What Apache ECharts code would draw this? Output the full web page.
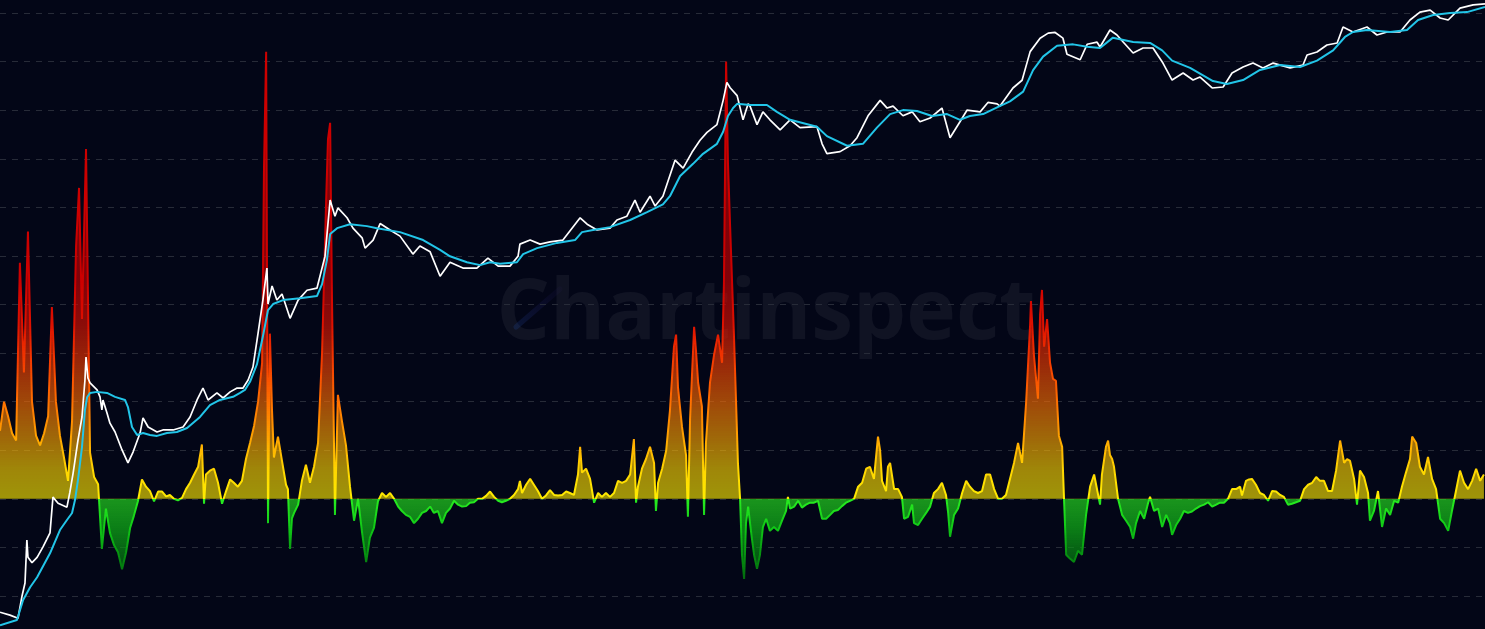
<!DOCTYPE html>
<html><head><meta charset="utf-8">
<script src="https://cdn.jsdelivr.net/npm/echarts@6/dist/echarts.min.js"></script>
<style>html,body{margin:0;padding:0;background:#030617;overflow:hidden}#chart{width:1485px;height:629px}</style>
</head><body><div id="chart"></div>
<script>
// Time base: days since 2010-07-18
const START = Date.UTC(2010, 6, 18);
const DAY = 86400000;
const LAST_DAY = 5524;

// BTC price (USD)
const priceDays = [0,37,67,82,93,100,104,119,138,160,186,197,216,249,260,272,290,305,316,320,327,335,361,372,379,383,398,409,428,454,476,495,521,532,551,584,606,644,681,707,733,755,774,807,830,856,882,904,923,941,960,978,993,997,1012,1030,1049,1079,1109,1142,1179,1209,1228,1246,1257,1291,1313,1347,1358,1388,1414,1451,1488,1536,1562,1600,1637,1674,1722,1774,1815,1853,1897,1927,1934,1972,2009,2046,2094,2158,2184,2221,2269,2295,2332,2362,2381,2418,2437,2466,2511,2541,2574,2604,2630,2667,2690,2704,2716,2742,2764,2783,2790,2816,2838,2864,2902,2939,2976,3039,3058,3076,3125,3162,3188,3229,3274,3300,3322,3359,3393,3422,3460,3504,3534,3571,3597,3646,3675,3709,3720,3768,3802,3832,3869,3899,3925,3954,3969,4018,4044,4081,4092,4129,4155,4178,4215,4252,4289,4326,4360,4401,4438,4464,4509,4550,4583,4624,4661,4698,4736,4799,4847,4862,4899,4936,4974,4996,5033,5085,5122,5160,5208,5245,5282,5320,5357,5387,5431,5480,5524];
const priceUSD = [0.068,0.0635,0.059,0.10,0.136,0.376,0.25,0.22,0.25,0.32,0.445,1.04,0.90,0.82,1.17,1.84,4.0,6.95,16.7,28.8,17.5,15.6,13.2,11.2,8.2,10.4,7.64,6.0,4.87,3.18,2.34,3.03,4.75,6.79,5.48,4.87,5.11,5.11,5.48,6.95,10.4,13.8,10.4,12.3,10.9,12.6,13.8,13.8,16.7,22.7,50.8,111,237,101,155,111,128,72,111,140,147,314,1187,810,985,780,610,485,380,460,680,585,505,330,400,348,195,272,237,237,300,248,248,313,418,460,418,440,460,780,670,585,610,740,810,1187,890,1300,1030,1300,3050,2530,3680,4900,5900,7100,12600,19300,17000,14100,7950,11600,11000,7100,9600,7950,6250,7950,6600,6750,4500,3560,3740,4300,5200,8750,12600,10500,11000,8750,9600,7600,8300,10500,5200,7600,9980,9600,12000,11600,11000,16900,20300,40000,55000,62000,63000,55000,37600,33000,47600,50000,44600,66800,59300,50200,38700,43600,43600,30500,20400,24100,20400,21900,16900,17300,24100,27800,30500,27200,30500,27200,29100,36900,39700,46800,49100,71700,63700,71700,59300,63700,63700,84600,102000,107000,88700,84600,112000,121000,124000];

// Moving average (USD)
const maDays = [0,63,86,112,138,186,223,249,268,279,290,305,316,324,335,361,398,428,465,476,491,510,532,558,584,621,658,696,744,781,818,867,893,911,930,956,978,997,1016,1053,1116,1179,1198,1216,1228,1254,1302,1365,1402,1488,1574,1637,1674,1737,1786,1823,1860,1923,1946,1998,2072,2139,2165,2206,2269,2344,2407,2466,2492,2530,2578,2615,2667,2690,2708,2727,2742,2790,2853,2890,2939,3039,3076,3151,3210,3262,3311,3359,3411,3467,3523,3571,3608,3657,3713,3757,3806,3843,3880,3932,3992,4044,4092,4140,4215,4278,4323,4360,4427,4512,4564,4624,4687,4762,4836,4899,4959,5003,5033,5085,5171,5234,5275,5331,5394,5457,5524];
const maUSD = [0.05,0.0565,0.091,0.123,0.156,0.275,0.477,0.605,0.714,0.97,1.56,3.41,8.2,11.1,12.3,12.6,12.3,11.2,10.4,8.8,5.48,4.54,4.75,4.54,4.44,4.75,4.87,5.35,6.95,9.2,10.4,11.2,12.3,13.2,16.0,24.3,47,87.6,101,111,116,122,162,286,530,610,670,640,610,555,460,365,313,272,254,272,262,272,330,380,430,460,555,585,625,740,890,1070,1300,2100,2800,3550,4500,6000,8700,10500,11600,11300,11300,9600,7950,6750,5400,4300,4500,6600,9100,10000,9800,8700,9100,7950,8700,9100,10800,12300,15500,25800,35500,46000,47500,45000,43600,55700,50200,49100,41200,32300,27200,19900,18600,20400,25900,29100,27800,32300,41200,56600,63700,66800,63700,66800,84600,95300,100000,102000,115000];

// Oscillator
const oscDays = [0,15,30,45,60,74,89,104,119,134,149,164,179,193,208,223,238,253,268,283,294,305,320,335,350,365,379,394,409,424,439,454,469,484,498,513,528,543,558,573,588,603,618,632,647,662,677,692,707,722,737,751,759,766,781,796,811,826,841,856,870,885,900,915,930,945,960,975,982,990,993,997,1004,1012,1019,1034,1049,1064,1071,1079,1086,1094,1109,1123,1138,1153,1168,1183,1198,1213,1220,1228,1235,1246,1257,1272,1287,1302,1317,1332,1347,1362,1376,1391,1406,1421,1436,1451,1466,1481,1495,1510,1525,1540,1555,1570,1585,1600,1614,1629,1644,1659,1674,1689,1704,1719,1734,1748,1763,1778,1793,1808,1823,1838,1853,1867,1882,1897,1912,1927,1934,1942,1957,1972,1986,2001,2016,2031,2046,2061,2076,2091,2106,2120,2135,2150,2158,2165,2180,2195,2210,2225,2239,2254,2269,2284,2299,2314,2329,2344,2358,2366,2373,2388,2403,2418,2433,2440,2448,2463,2478,2492,2507,2515,2522,2537,2552,2559,2567,2582,2589,2597,2611,2619,2626,2641,2656,2671,2686,2693,2701,2708,2716,2730,2738,2745,2753,2760,2768,2775,2783,2790,2797,2805,2816,2827,2838,2850,2864,2879,2894,2909,2924,2931,2939,2954,2969,2983,2998,3013,3028,3043,3058,3073,3088,3102,3117,3132,3147,3162,3177,3192,3207,3222,3236,3251,3266,3274,3281,3296,3303,3311,3326,3341,3355,3363,3378,3393,3400,3415,3430,3445,3460,3474,3489,3504,3519,3527,3534,3549,3564,3579,3594,3608,3623,3638,3653,3668,3683,3698,3713,3727,3742,3757,3772,3787,3802,3817,3832,3835,3846,3861,3869,3876,3884,3895,3906,3917,3928,3939,3951,3958,3966,3980,3995,4010,4025,4040,4055,4070,4085,4092,4099,4114,4122,4129,4137,4144,4159,4174,4189,4204,4215,4226,4241,4256,4271,4278,4293,4308,4323,4338,4352,4360,4375,4390,4404,4419,4434,4449,4464,4479,4494,4509,4524,4538,4553,4568,4583,4598,4613,4620,4635,4646,4657,4672,4687,4702,4717,4732,4747,4762,4776,4791,4806,4821,4836,4851,4866,4881,4896,4910,4925,4940,4955,4970,4985,4992,5000,5011,5022,5037,5048,5059,5074,5089,5096,5111,5126,5141,5156,5171,5186,5201,5215,5230,5245,5253,5268,5282,5297,5312,5327,5342,5357,5372,5387,5401,5416,5431,5446,5461,5476,5491,5506,5520];
const oscValue = [1.4,2.0,1.7,1.35,1.2,4.86,2.6,5.5,2.0,1.3,1.1,1.35,1.7,3.95,2.0,1.3,0.85,0.37,1.6,5.2,6.4,3.7,7.2,0.95,0.45,0.3,-1.03,-0.2,-0.7,-0.95,-1.1,-1.45,-1.1,-0.6,-0.35,-0.05,0.4,0.25,0.16,-0.05,0.15,0.15,0.05,0.08,0,-0.03,0.02,0.2,0.33,0.5,0.66,1.12,-0.1,0.5,0.58,0.62,0.33,-0.1,0.16,0.4,0.33,0.25,0.37,0.82,1.15,1.5,2.0,2.8,6.8,9.2,5.0,-0.5,3.4,1.8,0.85,1.28,0.78,0.29,0.2,-1.03,-0.4,-0.29,-0.12,0.37,0.7,0.33,0.66,1.15,3.0,6.1,7.4,7.74,4.1,-0.33,2.14,1.6,1.1,0.25,-0.45,0,-0.7,-1.3,-0.8,-0.6,-0.05,0.12,0.04,0.12,0,-0.16,-0.25,-0.33,-0.37,-0.5,-0.41,-0.29,-0.25,-0.16,-0.29,-0.25,-0.5,-0.29,-0.2,-0.04,-0.12,-0.16,-0.15,-0.08,-0.07,0,0,0.06,0.15,0.04,-0.04,-0.07,-0.04,0,0.08,0.2,0.37,0.12,0.29,0.41,0.29,0.16,0,0.07,0.18,0.08,0.07,0.08,0.15,0.12,0.08,0.5,1.07,0.54,0.62,0.41,-0.08,0.12,0.04,0.12,0.04,0.12,0.37,0.33,0.37,0.5,1.23,-0.08,0.25,0.62,0.82,1.07,0.74,-0.25,0.33,0.62,0.99,1.81,3.13,3.38,2.3,1.48,0.9,-0.37,1.65,3.54,3.05,2.39,1.9,-0.33,1.15,2.39,2.96,3.38,2.8,4.45,9.0,6.9,5.6,3.4,2.0,0.74,0,-1.15,-1.65,-0.5,-0.16,-0.5,-0.82,-1.15,-1.44,-1.15,-0.58,-0.41,-0.66,-0.58,-0.66,-0.45,-0.25,0.04,-0.2,-0.16,-0.04,-0.18,-0.12,-0.08,-0.08,-0.04,-0.41,-0.41,-0.33,-0.25,-0.23,-0.15,-0.08,-0.04,0,0.25,0.33,0.62,0.66,0.41,1.28,0.99,0.37,0.16,0.66,0.74,0.2,0.2,0.04,-0.41,-0.37,-0.12,-0.5,-0.54,-0.41,-0.29,-0.16,0.12,0.2,0.33,0.08,-0.29,-0.78,-0.33,-0.2,0.12,0.37,0.25,0.16,0.12,0.16,0.5,0.5,0.2,0,0,0.08,0.41,0.74,1.15,0.74,1.98,3.6,4.07,2.96,2.06,3.8,4.3,3.13,3.7,2.8,2.47,2.43,1.3,1.07,0,-1.15,-1.23,-1.3,-1.07,-1.15,-0.33,0.25,0.5,0.08,-0.12,0.5,1.07,1.2,0.9,0.82,0.66,0,-0.33,-0.45,-0.58,-0.82,-0.5,-0.25,-0.41,-0.08,0.04,-0.25,-0.2,-0.58,-0.33,-0.5,-0.74,-0.54,-0.41,-0.25,-0.29,-0.26,-0.2,-0.15,-0.12,-0.07,-0.16,-0.12,-0.08,-0.08,0,0.2,0.2,0.25,0.07,0.37,0.4,0.41,0.29,0.12,0.08,-0.04,0.16,0.15,0.08,0.04,-0.12,-0.1,-0.07,-0.04,0.2,0.29,0.33,0.45,0.37,0.37,0.16,0.16,0.58,1.2,1.2,0.74,0.82,0.78,0.41,-0.12,0.58,0.45,0.12,-0.45,-0.25,0.16,-0.58,-0.2,-0.33,-0.04,-0.08,0.25,0.54,0.82,1.28,1.15,0.66,0.5,0.86,0.41,0.2,-0.41,-0.5,-0.66,-0.25,0.16,0.58,0.33,0.2,0.37,0.62,0.37,0.5];

// Axis ranges
const OSC_MIN = -2, OSC_MAX = 10, OSC_STEP = 1;
const PRICE_MIN = 0.04571, PRICE_MAX = 135930;

const toTime = d => START + d * DAY;
const pair = (days, vals) => days.map((d, i) => [toTime(d), vals[i]]);

// colour ramp for the oscillator
const ramp = [
  [-1.8, [0, 95, 12]], [-1.2, [6, 140, 16]], [-0.6, [16, 200, 22]], [-0.0001, [40, 236, 32]],
  [0, [255, 236, 0]], [0.6, [255, 214, 0]], [1.2, [255, 168, 0]], [2.0, [255, 112, 0]],
  [2.8, [245, 60, 0]], [3.6, [222, 16, 0]], [4.5, [204, 0, 0]], [10, [204, 0, 0]]
];
function colorAt(v) {
  if (v <= ramp[0][0]) return 'rgb(' + ramp[0][1].join(',') + ')';
  for (let i = 1; i < ramp.length; i++) {
    if (v <= ramp[i][0]) {
      const a = ramp[i - 1], b = ramp[i];
      const t = (v - a[0]) / (b[0] - a[0]);
      const c = a[1].map((x, k) => Math.round(x + (b[1][k] - x) * t));
      return 'rgb(' + c.join(',') + ')';
    }
  }
  return 'rgb(' + ramp[ramp.length - 1][1].join(',') + ')';
}
const pieces = [{ lt: OSC_MIN, color: colorAt(OSC_MIN) }];
for (let i = OSC_MIN * 20; i < OSC_MAX * 20; i++) {
  const lo = i / 20, hi = (i + 1) / 20;
  pieces.push({ gte: lo, lt: hi, color: colorAt(lo >= 0 ? lo + 0.025 : hi - 0.025) });
}
pieces.push({ gte: OSC_MAX, color: colorAt(OSC_MAX) });

const chart = echarts.init(document.getElementById('chart'), null, { renderer: 'canvas' });
chart.setOption({
  backgroundColor: '#030617',
  animation: false,
  grid: [
    { left: 0, right: 0, top: 13, bottom: 33 },
    { left: 0, right: 0, top: 0, bottom: 0 }
  ],
  xAxis: [
    { type: 'time', gridIndex: 0, min: START, max: toTime(LAST_DAY), show: false },
    { type: 'time', gridIndex: 1, min: START, max: toTime(LAST_DAY), show: false }
  ],
  yAxis: [
    { type: 'value', gridIndex: 0, min: OSC_MIN, max: OSC_MAX, interval: OSC_STEP,
      axisLine: { show: false }, axisTick: { show: false }, axisLabel: { show: false },
      splitLine: { show: true, lineStyle: { color: '#272b38', width: 1, type: [6, 6] } } },
    { type: 'log', gridIndex: 1, min: PRICE_MIN, max: PRICE_MAX, logBase: 10, show: false,
      splitLine: { show: false } }
  ],
  visualMap: [{ type: 'piecewise', show: false, seriesIndex: 0, dimension: 1, pieces: pieces }],
  graphic: [
    { type: 'text', x: 766, y: 315, z: 0, silent: true,
      style: { text: 'Chartinspect', fontSize: 84, fontWeight: 'bold', fontFamily: '"Open Sans", "Noto Sans", sans-serif',
               fill: 'rgba(255,255,255,0.055)', align: 'center', verticalAlign: 'middle', textAlign: 'center', textVerticalAlign: 'middle' } },
    { type: 'line', z: 0, silent: true, shape: { x1: 516, y1: 327, x2: 560, y2: 289 },
      style: { lineWidth: 5, lineCap: 'round',
        stroke: new echarts.graphic.LinearGradient(0, 1, 1, 0, [
          { offset: 0, color: 'rgba(30,80,170,0.22)' }, { offset: 1, color: 'rgba(80,45,180,0.03)' }]) } }
  ],
  series: [
    { type: 'line', name: 'Oscillator', xAxisIndex: 0, yAxisIndex: 0, data: pair(oscDays, oscValue),
      symbol: 'none', showSymbol: false, lineStyle: { width: 2 }, areaStyle: { opacity: 0.62 }, z: 2, silent: true },
    { type: 'line', name: 'Price', xAxisIndex: 1, yAxisIndex: 1, data: pair(priceDays, priceUSD),
      symbol: 'none', showSymbol: false, lineStyle: { color: '#ffffff', width: 1.7 }, z: 3, silent: true },
    { type: 'line', name: 'Moving average', xAxisIndex: 1, yAxisIndex: 1, data: pair(maDays, maUSD),
      symbol: 'none', showSymbol: false, lineStyle: { color: '#22c5e8', width: 2 }, z: 4, silent: true }
  ]
});
</script></body></html>
